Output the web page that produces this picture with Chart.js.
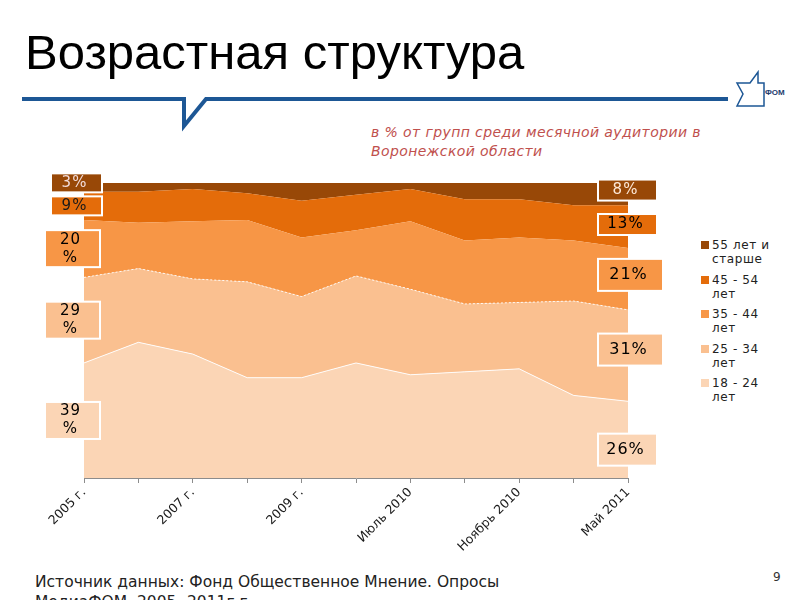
<!DOCTYPE html>
<html>
<head>
  <script src="https://cdnjs.cloudflare.com/ajax/libs/Chart.js/4.4.1/chart.umd.min.js"></script>
  <style>
    body {
      margin: 0;
      width: 800px;
      height: 600px;
      overflow: hidden;
      position: relative;
      background: #fff;
      font-family: "DejaVu Sans", sans-serif;
    }
    .title {
      position: absolute;
      left: 25px;
      top: 24px;
      font-family: "Liberation Sans Narrow", "Liberation Sans", sans-serif;
      font-size: 49px;
      color: #000;
      white-space: nowrap;
    }
    .rule {
      position: absolute;
      left: 0;
      top: 0;
    }
    .subtitle {
      position: absolute;
      left: 371px;
      top: 123px;
      font-size: 14px;
      font-style: italic;
      line-height: 19px;
      letter-spacing: 0.4px;
      color: #c0504d;
    }
    #chartBox {
      position: absolute;
      left: 0;
      top: 170px;
    }
    .legend {
      position: absolute;
      left: 701px;
      top: 238px;
      font-size: 12px;
      line-height: 14px;
      letter-spacing: 0.6px;
      color: #222;
    }
    .legend .item {
      position: relative;
      padding-left: 11px;
      height: 34.5px;
    }
    .legend .sw {
      position: absolute;
      left: 0;
      top: 3px;
      width: 8px;
      height: 8px;
    }
    .source {
      position: absolute;
      left: 35px;
      top: 572px;
      font-size: 15.5px;
      line-height: 20px;
      color: #222;
    }
    .page {
      position: absolute;
      left: 773px;
      top: 570px;
      font-size: 12px;
      color: #333;
    }
  </style>
</head>
<body>
  <div class="title">Возрастная структура</div>
  <svg class="rule" width="800" height="140">
    <polyline points="22,99 184,99 184,126 206,99 728,99" fill="none" stroke="#1d5795" stroke-width="4"/>
    <polygon points="737,83 750,83 758,72 758,83 764,83 764,106 737,106 743,94" fill="#fff" stroke="#1d5795" stroke-width="1.5"/>
    <text x="765" y="95" font-family="Liberation Sans, sans-serif" font-weight="bold" font-size="8" fill="#1d3b6e">ФОМ</text>
  </svg>
  <div class="subtitle">в % от групп среди месячной аудитории в<br>Воронежской области</div>

  <canvas id="chartBox" width="700" height="388"></canvas>

  <div class="legend" id="legend"></div>

  <div class="source">Источник данных: Фонд Общественное Мнение. Опросы<br>МедиаФОМ, 2005- 2011г.г.</div>
  <div class="page">9</div>

  <script>
    const xLabels = ['2005 г.', '', '2007 г.', '', '2009 г.', '', 'Июль 2010', '', 'Ноябрь 2010', '', 'Май 2011'];

    const seriesNames = ['18 - 24 лет', '25 - 34 лет', '35 - 44 лет', '45 - 54 лет', '55 лет и старше'];
    const legendLines = [['18 - 24', 'лет'], ['25 - 34', 'лет'], ['35 - 44', 'лет'], ['45 - 54', 'лет'], ['55 лет и', 'старше']];

    const age18 = [39, 46, 42, 34, 34, 39, 35, 36, 37, 28, 26];
    const age25 = [29, 25, 25.5, 32.5, 27.5, 29.5, 29, 23, 22.5, 32, 31];
    const age35 = [19.5, 15.5, 19.5, 21, 20, 15.5, 23, 21.5, 22, 20.5, 21];
    const age45 = [9.5, 10.5, 11, 9, 12.5, 12, 11, 14, 13, 12, 14.5];
    const age55 = [3, 3, 2, 3.5, 6, 4, 2, 5.5, 5.5, 7.5, 7.5];

    const startLabels = [['39', '%'], ['29', '%'], ['20', '%'], ['9%'], ['3%']];
    const endLabels = ['26%', '31%', '21%', '13%', '8%'];

    const colors = ['#fbd5b5', '#fac090', '#f79646', '#e46c0a', '#984807'];
    const labelText = ['#000', '#000', '#000', '#1a1a1a', '#f2dcdb'];

    const series = [age18, age25, age35, age45, age55];

    // legend, top series first
    const legendEl = document.getElementById('legend');
    for (let i = series.length - 1; i >= 0; i--) {
      const it = document.createElement('div');
      it.className = 'item';
      it.innerHTML = '<span class="sw" style="background:' + colors[i] + '"></span>' + legendLines[i].join('<br>');
      legendEl.appendChild(it);
    }

    // boxes with start / end values beside the areas
    const boxLabels = {
      id: 'boxLabels',
      afterDatasetsDraw(chart) {
        const ctx = chart.ctx;
        const y = chart.scales.y;
        const area = chart.chartArea;
        const last = xLabels.length - 1;

        function bands(idx) {
          let cum = 0;
          return series.map(s => {
            const lo = cum;
            cum += s[idx];
            return (y.getPixelForValue(lo) + y.getPixelForValue(cum)) / 2;
          });
        }

        function drawBox(x, cy, w, h, fill, lines, color, font) {
          ctx.save();
          ctx.fillStyle = fill;
          ctx.strokeStyle = '#fff';
          ctx.lineWidth = 2;
          ctx.fillRect(x, cy - h / 2, w, h);
          ctx.strokeRect(x, cy - h / 2, w, h);
          ctx.fillStyle = color;
          ctx.font = font;
          ctx.letterSpacing = '1px';
          ctx.textAlign = 'center';
          ctx.textBaseline = 'middle';
          const lh = 18;
          lines.forEach((t, k) => {
            ctx.fillText(t, x + w / 2 - 2, cy + (k - (lines.length - 1) / 2) * lh);
          });
          ctx.restore();
        }

        // left side, bottom to top, keep a gap between boxes
        const lc = bands(0);
        let prevTop = area.bottom + 100;
        lc.forEach((c, i) => {
          const lines = startLabels[i];
          const h = lines.length > 1 ? 37 : 19;
          const w = lines.length > 1 ? 55 : 51;
          let cy = c;
          if (cy + h / 2 > prevTop - 4) cy = prevTop - 4 - h / 2;
          prevTop = cy - h / 2;
          const x = lines.length > 1 ? area.left - 39 : area.left - 33;
          drawBox(x, cy, w, h, colors[i], lines, labelText[i], '15px "DejaVu Sans"');
        });

        // right side
        const rc = bands(last);
        const rightShift = [10, -6, -4, -2, -4];
        rc.forEach((c, i) => {
          const big = i < 3;
          const h = big ? 32 : 21;
          const w = (i === 1 || i === 2) ? 65 : 59;
          drawBox(area.right - 30, c + rightShift[i], w, h, colors[i], [endLabels[i]],
            i === 4 ? '#fde9d9' : '#000', big ? '16px "DejaVu Sans"' : '15px "DejaVu Sans"');
        });
      }
    };

    const datasets = series.map((s, i) => ({
      label: seriesNames[i],
      data: s,
      backgroundColor: colors[i],
      borderColor: i < 2 ? 'rgba(255,255,255,0.9)' : colors[i],
      borderWidth: i < 2 ? 1 : 0,
      borderDash: i === 1 ? [2, 2] : [],
      pointRadius: 0,
      tension: 0,
      fill: i === 0 ? 'origin' : '-1'
    }));

    new Chart(document.getElementById('chartBox'), {
      type: 'line',
      data: { labels: xLabels, datasets: datasets },
      options: {
        responsive: false,
        animation: false,
        layout: { padding: { left: 84, right: 72, top: 13, bottom: 0 } },
        plugins: {
          legend: { display: false },
          tooltip: { enabled: false }
        },
        scales: {
          x: {
            offset: false,
            border: { color: '#8c8c8c', width: 1 },
            grid: { drawOnChartArea: false, drawTicks: true, tickLength: 5, color: '#8c8c8c' },
            ticks: {
              autoSkip: false,
              minRotation: 45,
              maxRotation: 45,
              padding: 2,
              color: '#1a1a1a',
              font: { family: 'DejaVu Sans', size: 12.5 }
            },
            afterFit(scale) { scale.height = 80; }
          },
          y: {
            display: false,
            stacked: true,
            min: 0,
            max: 100
          }
        }
      },
      plugins: [boxLabels]
    });
  </script>
</body>
</html>
